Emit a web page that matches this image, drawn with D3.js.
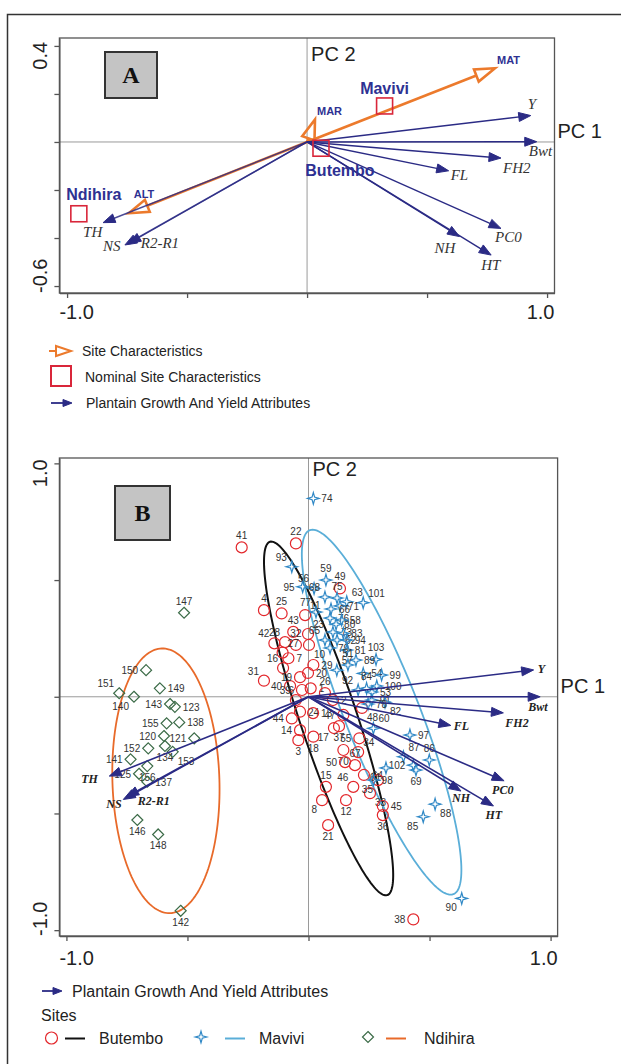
<!DOCTYPE html>
<html>
<head>
<meta charset="utf-8">
<script src="https://cdn.jsdelivr.net/npm/d3@7"></script>
<style>
  body { margin: 0; background: #fff; }
  svg { display: block; }
  text { font-family: "Liberation Sans", Arial, sans-serif; }
  text.serif { font-family: "Liberation Serif", "Times New Roman", serif; }
</style>
</head>
<body>
<svg id="chart" width="621" height="1064"></svg>
<script>
// ---- data (PCA biplot scores / loadings) ----
const attrNames = ["Y", "Bwt", "FH2", "FL", "PC0", "NH", "HT", "TH", "NS", "R2-R1"];
const attrPc1A = [0.932, 0.957, 0.808, 0.590, 0.808, 0.635, 0.767, -0.850, -0.759, -0.743];
const attrPc2A = [0.110, 0.001, -0.067, -0.120, -0.360, -0.394, -0.471, -0.336, -0.429, -0.422];
const attrPc1B = [0.930, 0.957, 0.805, 0.588, 0.808, 0.630, 0.764, -0.823, -0.765, -0.751];
const attrPc2B = [0.115, 0.000, -0.069, -0.123, -0.360, -0.404, -0.468, -0.340, -0.440, -0.428];

const siteVarNames = ["MAT", "MAR", "ALT"];
const siteVarPc1 = [0.783, 0.033, -0.743];
const siteVarPc2 = [0.307, 0.094, -0.297];

const siteNames = ["Mavivi", "Butembo", "Ndihira"];
const sitePc1 = [0.323, 0.058, -0.951];
const sitePc2 = [0.150, -0.026, -0.299];

const butemboIds = [41,22,4,25,49,11,43,28,32,23,42,27,7,10,16,29,20,31,40,19,6,1,39,26,2,24,13,44,47,48,14,18,3,17,37,55,70,34,50,67,64,15,46,8,12,33,35,45,36,21,38];
const butemboPc1 = [-0.276,-0.052,-0.184,-0.111,0.130,-0.014,-0.063,-0.097,-0.052,-0.002,-0.141,-0.107,-0.083,0.002,-0.105,0.020,-0.002,-0.184,-0.076,-0.035,-0.027,0.009,-0.052,0.068,0.101,-0.035,0.019,-0.069,0.144,0.221,-0.035,0.020,-0.042,0.105,0.126,0.210,0.144,0.205,0.151,0.192,0.229,0.072,0.185,0.056,0.155,0.254,0.287,0.307,0.307,0.081,0.433];
const butemboPc2 = [0.640,0.657,0.371,0.357,0.464,0.350,0.278,0.234,0.222,0.269,0.229,0.189,0.165,0.222,0.123,0.136,0.102,0.069,0.046,0.084,0.029,0.036,-0.014,0.016,-0.014,-0.064,-0.070,-0.093,-0.078,-0.048,-0.143,-0.171,-0.186,-0.134,-0.126,-0.178,-0.228,-0.237,-0.280,-0.293,-0.335,-0.386,-0.386,-0.443,-0.443,-0.413,-0.357,-0.468,-0.507,-0.550,-0.954];

const maviviIds = [74,93,95,59,56,68,75,63,101,77,71,66,76,80,58,65,73,83,62,94,79,81,103,89,57,51,54,99,100,84,92,53,91,82,78,60,97,87,86,102,69,61,98,88,85,90];
const maviviPc1 = [0.020,-0.069,-0.024,0.072,0.023,0.068,0.118,0.158,0.226,0.031,0.130,0.093,0.089,0.114,0.137,0.068,0.101,0.144,0.118,0.158,0.089,0.158,0.279,0.196,0.117,0.163,0.226,0.302,0.282,0.240,0.205,0.262,0.261,0.316,0.246,0.268,0.419,0.392,0.499,0.433,0.444,0.320,0.269,0.523,0.474,0.633];
const maviviPc2 = [0.850,0.557,0.471,0.500,0.464,0.427,0.423,0.407,0.403,0.363,0.389,0.376,0.337,0.311,0.329,0.243,0.277,0.272,0.243,0.243,0.209,0.200,0.160,0.157,0.114,0.136,0.100,0.093,0.046,0.036,0.029,0.020,-0.014,-0.023,-0.031,-0.135,-0.164,-0.257,-0.271,-0.293,-0.314,-0.305,-0.357,-0.460,-0.514,-0.864];

const ndihiraIds = [147,150,151,140,149,143,123,155,138,120,121,152,134,153,141,156,125,137,146,148,142];
const ndihiraPc1 = [-0.514,-0.671,-0.782,-0.721,-0.614,-0.572,-0.552,-0.586,-0.534,-0.597,-0.472,-0.662,-0.593,-0.561,-0.735,-0.666,-0.700,-0.666,-0.707,-0.621,-0.528];
const ndihiraPc2 = [0.360,0.114,0.015,0.000,0.036,-0.031,-0.043,-0.114,-0.110,-0.168,-0.178,-0.221,-0.211,-0.236,-0.268,-0.297,-0.330,-0.364,-0.528,-0.590,-0.917];

// site ellipses: centre, major half-axis vector, minor half-axis length
const ellipseSites = ["Butembo", "Mavivi", "Ndihira"];
const ellipseCx = [0.083, 0.302, -0.589];
const ellipseCy = [-0.093, -0.066, -0.360];
const ellipseAx = [0.242, 0.296, 0.017];
const ellipseAy = [-0.757, -0.780, -0.567];
const ellipseB = [0.118, 0.155, 0.221];

// ---- styling / layout ----
const NAVY = "#2b2b85", ORANGE = "#ec7a2c", RED = "#d9263a", SITE_TXT = "#2e3192";
const siteStyle = {
  Butembo: {mark: "circle", stroke: "#e3262b", line: "#111"},
  Mavivi: {mark: "star", stroke: "#2f88c6", line: "#5aaed8"},
  Ndihira: {mark: "diamond", stroke: "#3b6b47", line: "#e86a2a"}
};
const attrLabelA = {Y:[-3,-7], Bwt:[-8,14], FH2:[2,15], FL:[2,9], PC0:[-6,14], NH:[-25,16], HT:[-10,15], TH:[-20,14], NS:[-22,6], "R2-R1":[12,5]};
const attrLabelB = {Y:[4,3], Bwt:[-12,14], FH2:[2,14], FL:[3,5], PC0:[-12,13], NH:[-9,11], HT:[-8,13], TH:[-28,7], NS:[-17,9], "R2-R1":[11,8]};
const siteVarLabel = {MAT:[2,-4], MAR:[2,-4], ALT:[5,-15]};
const siteLabel = {Mavivi:[0,-12], Butembo:[19,28], Ndihira:[15,-14]};
const labelDir = {
  41:'n',22:'n',4:'n',25:'n',49:'n',11:'ne',43:'n',28:'nw',32:'n',23:'ne',42:'nw',27:'ne',7:'e',10:'se',16:'nw',29:'e',20:'e',31:'nw',40:'w',19:'w',6:'w',1:'e',39:'nw',26:'n',2:'e',24:'e',13:'e',44:'w',47:'w',48:'se',14:'w',18:'s',3:'s',17:'sw',37:'s',55:'w',70:'s',34:'ne',50:'w',67:'n',64:'e',15:'n',46:'nw',8:'sw',12:'s',33:'se',35:'sw',45:'e',36:'s',21:'s',38:'w',
  74:'e',93:'nw',95:'w',59:'n',56:'nw',68:'nw',75:'n',63:'ne',101:'ne',77:'nw',71:'e',58:'e',65:'nw',83:'e',81:'e',103:'n',89:'e',57:'ne',51:'n',54:'e',99:'e',100:'e',84:'n',92:'nw',53:'e',91:'e',82:'se',78:'e',60:'ne',97:'e',87:'ne',86:'n',102:'w',69:'s',61:'sw',88:'se',85:'sw',90:'sw',
  147:'n',150:'w',151:'nw',140:'sw',149:'e',143:'w',123:'e',155:'w',138:'e',120:'w',121:'w',152:'w',134:'s',153:'se',141:'w',156:'s',125:'w',137:'e',146:'s',148:'s',142:'s'
};
const dirOff = {n:[0,-8,"middle"], s:[0,15,"middle"], e:[8,4,"start"], w:[-8,4,"end"],
  ne:[5,-6,"start"], nw:[-5,-6,"end"], se:[5,13,"start"], sw:[-5,13,"end"]};

const svg = d3.select("#chart");
svg.append("rect").attr("width", 621).attr("height", 1064).attr("fill", "#fff");
svg.append("path").attr("d", "M7.5,1064V14.5H621")
  .attr("fill", "none").attr("stroke", "#333").attr("stroke-width", 1.5);

function starPath(R, r) {
  const p = [];
  for (let i = 0; i < 8; i++) {
    const a = i * Math.PI / 4 - Math.PI / 2, rad = i % 2 ? r : R;
    p.push([rad * Math.cos(a), rad * Math.sin(a)]);
  }
  return "M" + p.join("L") + "Z";
}
const markPath = {
  star: starPath(5.8, 1.8),
  diamond: "M0,-5.5L5.5,0L0,5.5L-5.5,0Z"
};

function arrow(g, x0, y0, x1, y1, o) {
  const dx = x1 - x0, dy = y1 - y0, len = Math.hypot(dx, dy);
  const ux = dx / len, uy = dy / len;
  const bx = x1 - ux * o.head, by = y1 - uy * o.head;
  const ex = o.hollow ? bx : x1 - ux * o.head * 0.6, ey = o.hollow ? by : y1 - uy * o.head * 0.6;
  g.append("line").attr("x1", x0).attr("y1", y0).attr("x2", ex).attr("y2", ey)
    .attr("stroke", o.color).attr("stroke-width", o.width).attr("opacity", o.opacity || 1);
  g.append("path")
    .attr("d", `M${x1},${y1}L${bx - uy * o.half},${by + ux * o.half}L${bx + uy * o.half},${by - ux * o.half}Z`)
    .attr("fill", o.hollow ? "none" : o.color)
    .attr("stroke", o.color).attr("stroke-width", o.hollow ? o.width : 1)
    .attr("stroke-linejoin", "miter");
}

function panel(c) {
  const x = d3.scaleLinear().domain(c.xDomain).range([c.left, c.right]);
  const y = d3.scaleLinear().domain(c.yDomain).range([c.bottom, c.top]);
  const g = svg.append("g");
  g.append("line").attr("x1", x(0)).attr("x2", x(0)).attr("y1", c.top).attr("y2", c.bottom)
    .attr("stroke", "#9a9a9a").attr("stroke-width", 1);
  g.append("line").attr("x1", c.left).attr("x2", c.right).attr("y1", y(0)).attr("y2", y(0))
    .attr("stroke", "#9a9a9a").attr("stroke-width", 1);
  const ax = g.append("g").attr("transform", `translate(0,${c.bottom})`)
    .call(d3.axisBottom(x).tickValues(c.xTicks).tickSize(5).tickSizeOuter(0).tickFormat(""));
  const ay = g.append("g").attr("transform", `translate(${c.left},0)`)
    .call(d3.axisLeft(y).tickValues(c.yTicks).tickSize(5).tickSizeOuter(0).tickFormat(""));
  [ax, ay].forEach(a => a.selectAll("line,path").attr("stroke", "#555").attr("stroke-width", 1.3));
  g.append("rect").attr("x", c.left).attr("y", c.top)
    .attr("width", c.right - c.left).attr("height", c.bottom - c.top)
    .attr("fill", "none").attr("stroke", "#555").attr("stroke-width", 1.3);

  const fs = "20px", col = "#222";
  g.append("text").attr("x", c.left).attr("y", c.xLabelY).attr("text-anchor", "start")
    .attr("font-size", fs).attr("fill", col).text(c.xTicks[0].toFixed(1));
  g.append("text").attr("x", c.right).attr("y", c.xLabelY).attr("text-anchor", "end")
    .attr("font-size", fs).attr("fill", col).text(c.xTicks[c.xTicks.length - 1].toFixed(1));
  const yTop = c.yTicks[c.yTicks.length - 1], yBot = c.yTicks[0];
  g.append("text").attr("transform", `translate(${c.yLabelX},${y(yTop) - 4}) rotate(-90)`)
    .attr("text-anchor", "end").attr("font-size", fs).attr("fill", col).text(yTop.toFixed(1));
  g.append("text").attr("transform", `translate(${c.yLabelX},${c.bottom}) rotate(-90)`)
    .attr("text-anchor", "start").attr("font-size", fs).attr("fill", col).text(yBot.toFixed(1));

  g.append("text").attr("x", x(0) + 4).attr("y", c.pc2Y).attr("font-size", "20px").attr("fill", col).text("PC 2");
  g.append("text").attr("x", c.right + 3).attr("y", y(0) - 4).attr("font-size", "20px").attr("fill", col).text("PC 1");

  // panel letter box
  g.append("rect").attr("x", c.boxX).attr("y", c.boxY).attr("width", c.boxW).attr("height", c.boxH)
    .attr("fill", "#c4c4c4").attr("stroke", "#333").attr("stroke-width", 2);
  g.append("text").attr("class", "serif")
    .attr("x", c.boxX + c.boxW / 2).attr("y", c.boxY + c.boxH / 2 + 8).attr("text-anchor", "middle")
    .attr("font-weight", "bold").attr("font-size", "24px").attr("fill", "#111").text(c.letter);
  return {g, x, y};
}

// ================= Panel A =================
const A = panel({xDomain: [-1.032, 1.031], yDomain: [-0.629, 0.433], left: 59.4, right: 554.5, top: 38, bottom: 293,
  xTicks: [-1, -0.5, 0, 0.5, 1], yTicks: [-0.6, -0.4, -0.2, 0, 0.2, 0.4], xLabelY: 319, yLabelX: 47, pc2Y: 61,
  boxX: 105, boxY: 52, boxW: 52, boxH: 46, letter: "A"});

// site characteristic arrows (orange, hollow heads)
siteVarNames.forEach((n, i) => {
  arrow(A.g, A.x(0), A.y(0), A.x(siteVarPc1[i]), A.y(siteVarPc2[i]),
    {color: ORANGE, width: 2.6, head: 20, half: 6.5, hollow: true});
});
// plantain attribute arrows
attrNames.forEach((n, i) => {
  arrow(A.g, A.x(0), A.y(0), A.x(attrPc1A[i]), A.y(attrPc2A[i]),
    {color: NAVY, width: 1.4, head: 12, half: 4.5, opacity: i >= 7 ? 0.85 : 1});
  const o = attrLabelA[n];
  A.g.append("text").attr("class", "serif")
    .attr("x", A.x(attrPc1A[i]) + o[0]).attr("y", A.y(attrPc2A[i]) + o[1])
    .attr("font-style", "italic").attr("font-size", "15px").attr("fill", "#333").text(n);
});
siteVarNames.forEach((n, i) => {
  const o = siteVarLabel[n];
  A.g.append("text").attr("x", A.x(siteVarPc1[i]) + o[0]).attr("y", A.y(siteVarPc2[i]) + o[1])
    .attr("font-size", "11px").attr("font-weight", "bold").attr("fill", SITE_TXT).text(n);
});
// nominal site centroids
siteNames.forEach((n, i) => {
  const cx = A.x(sitePc1[i]), cy = A.y(sitePc2[i]);
  A.g.append("rect").attr("x", cx - 8).attr("y", cy - 8).attr("width", 16).attr("height", 16)
    .attr("fill", "none").attr("stroke", RED).attr("stroke-width", 1.6);
  const o = siteLabel[n];
  A.g.append("text").attr("x", cx + o[0]).attr("y", cy + o[1]).attr("text-anchor", "middle")
    .attr("font-size", "16px").attr("font-weight", "bold").attr("fill", SITE_TXT).text(n);
});

// legend A
const legA = svg.append("g");
legA.append("line").attr("x1", 49).attr("x2", 57).attr("y1", 351).attr("y2", 351).attr("stroke", ORANGE).attr("stroke-width", 2);
legA.append("path").attr("d", "M56,346L71,351L56,356Z").attr("fill", "none").attr("stroke", ORANGE).attr("stroke-width", 2);
legA.append("text").attr("x", 82).attr("y", 356).attr("font-size", "14px").attr("fill", "#222").text("Site Characteristics");
legA.append("rect").attr("x", 51).attr("y", 366).attr("width", 20).attr("height", 20)
  .attr("fill", "none").attr("stroke", RED).attr("stroke-width", 2);
legA.append("text").attr("x", 85).attr("y", 382).attr("font-size", "14px").attr("fill", "#222").text("Nominal Site Characteristics");
arrow(legA, 51, 403, 72, 403, {color: NAVY, width: 1.8, head: 9, half: 3.5});
legA.append("text").attr("x", 86).attr("y", 408).attr("font-size", "14px").attr("fill", "#222").text("Plantain Growth And Yield Attributes");

// ================= Panel B =================
const B = panel({xDomain: [-1.029, 1.029], yDomain: [-1.025, 1.023], left: 59.4, right: 557.6, top: 458, bottom: 936,
  xTicks: [-1, -0.5, 0, 0.5, 1], yTicks: [-1, -0.5, 0, 0.5, 1], xLabelY: 965, yLabelX: 47, pc2Y: 476,
  boxX: 115, boxY: 486, boxW: 55, boxH: 54, letter: "B"});

// ellipses
const ell = d3.line().curve(d3.curveLinearClosed);
ellipseSites.forEach((s, i) => {
  const ax = ellipseAx[i], ay = ellipseAy[i], L = Math.hypot(ax, ay);
  const vx = -ay / L * ellipseB[i], vy = ax / L * ellipseB[i];
  const pts = d3.range(0, 2 * Math.PI, Math.PI / 90).map(t => [
    B.x(ellipseCx[i] + Math.cos(t) * ax + Math.sin(t) * vx),
    B.y(ellipseCy[i] + Math.cos(t) * ay + Math.sin(t) * vy)]);
  B.g.append("path").attr("d", ell(pts)).attr("fill", "none")
    .attr("stroke", siteStyle[s].line).attr("stroke-width", s === "Butembo" ? 2 : 1.8);
});

// sample points
const sets = [
  {site: "Butembo", ids: butemboIds, pc1: butemboPc1, pc2: butemboPc2},
  {site: "Mavivi", ids: maviviIds, pc1: maviviPc1, pc2: maviviPc2},
  {site: "Ndihira", ids: ndihiraIds, pc1: ndihiraPc1, pc2: ndihiraPc2}
];
sets.forEach(st => {
  const sty = siteStyle[st.site];
  const gp = B.g.append("g");
  st.ids.forEach((id, i) => {
    const px = B.x(st.pc1[i]), py = B.y(st.pc2[i]);
    if (sty.mark === "circle") {
      gp.append("circle").attr("cx", px).attr("cy", py).attr("r", 5.5)
        .attr("fill", "none").attr("stroke", sty.stroke).attr("stroke-width", 1.2);
    } else {
      gp.append("path").attr("d", markPath[sty.mark]).attr("transform", `translate(${px},${py})`)
        .attr("fill", "none").attr("stroke", sty.stroke).attr("stroke-width", 1.2);
    }
    const d = dirOff[labelDir[id] || "e"];
    gp.append("text").attr("x", px + d[0]).attr("y", py + d[1]).attr("text-anchor", d[2])
      .attr("font-size", "10px").attr("fill", "#333").text(id);
  });
});

// attribute arrows B
attrNames.forEach((n, i) => {
  arrow(B.g, B.x(0), B.y(0), B.x(attrPc1B[i]), B.y(attrPc2B[i]),
    {color: NAVY, width: 1.6, head: 12, half: 4.5});
  const o = attrLabelB[n];
  B.g.append("text").attr("class", "serif")
    .attr("x", B.x(attrPc1B[i]) + o[0]).attr("y", B.y(attrPc2B[i]) + o[1])
    .attr("font-style", "italic").attr("font-weight", "bold")
    .attr("font-size", "12px").attr("fill", "#222").text(n);
});

// legend B
const legB = svg.append("g");
arrow(legB, 42, 991, 62, 991, {color: NAVY, width: 1.8, head: 9, half: 3.5});
legB.append("text").attr("x", 72).attr("y", 997).attr("font-size", "16px").attr("fill", "#222").text("Plantain Growth And Yield Attributes");
legB.append("text").attr("x", 41).attr("y", 1021).attr("font-size", "16px").attr("fill", "#222").text("Sites");
const legItems = [
  {site: "Butembo", mx: 51.5, lx: 65, tx: 99},
  {site: "Mavivi", mx: 201, lx: 225, tx: 259},
  {site: "Ndihira", mx: 368, lx: 386, tx: 424}
];
legItems.forEach(it => {
  const sty = siteStyle[it.site];
  if (sty.mark === "circle") {
    legB.append("circle").attr("cx", it.mx).attr("cy", 1038).attr("r", 6)
      .attr("fill", "none").attr("stroke", sty.stroke).attr("stroke-width", 1.2);
  } else {
    legB.append("path").attr("d", markPath[sty.mark]).attr("transform", `translate(${it.mx},1037)`)
      .attr("fill", "none").attr("stroke", sty.stroke).attr("stroke-width", 1.2);
  }
  legB.append("line").attr("x1", it.lx).attr("x2", it.lx + 20).attr("y1", 1038.5).attr("y2", 1038.5)
    .attr("stroke", sty.line).attr("stroke-width", 2);
  legB.append("text").attr("x", it.tx).attr("y", 1044).attr("font-size", "16px").attr("fill", "#222").text(it.site);
});
</script>
</body>
</html>
